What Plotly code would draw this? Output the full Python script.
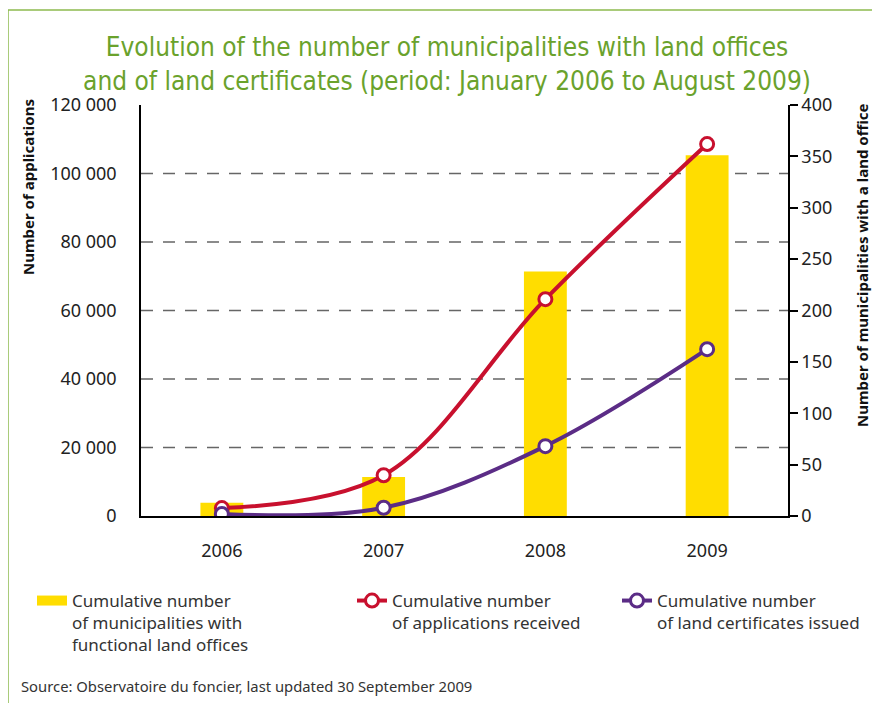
import plotly.graph_objects as go

years = ["2006", "2007", "2008", "2009"]
municipalities = [13, 38, 238, 351]
applications = [2300, 11900, 63300, 108600]
certificates = [600, 2400, 20400, 48700]

left_ticks = [0, 20000, 40000, 60000, 80000, 100000, 120000]
left_labels = ["0", "20 000", "40 000", "60 000", "80 000", "100 000", "120 000"]
right_ticks = [0, 50, 100, 150, 200, 250, 300, 350, 400]

# the page body has an 8px margin: the figure origin sits at page (8, 8)
OX, OY = 8, 8
W, H = 880 - OX, 703 - OY
ML, MR, MT, MB = 141 - OX, 880 - 788, 105 - OY, 703 - 516
PW, PH = W - ML - MR, H - MT - MB


def px(xp):
    return (xp - OX - ML) / PW


def py(yp):
    return (H - MB - (yp - OY)) / PH


YELLOW = "#FFDD00"
RED = "#C8102E"
PURPLE = "#5B2C86"
GREEN = "#6AA22C"
TXT = "#222222"
LEGFONT = dict(family="Noto Sans, Open Sans, sans-serif", size=17, color="#333333")

fig = go.Figure()

fig.add_trace(go.Bar(
    x=years, y=municipalities, marker=dict(color=YELLOW, line=dict(width=0)),
    width=0.265, showlegend=False, yaxis="y", name="municipalities"))

fig.add_trace(go.Scatter(
    x=[None], y=[None], mode="lines", line=dict(color=YELLOW, width=13),
    name="Cumulative number<br>of municipalities with<br>functional land offices",
    legend="legend"))

fig.add_trace(go.Scatter(
    x=years, y=applications, yaxis="y2", mode="lines+markers",
    line=dict(color=RED, width=4, shape="spline", smoothing=1.0),
    marker=dict(size=13, color="white", line=dict(color=RED, width=3)),
    name="Cumulative number<br>of applications received", legend="legend2"))

fig.add_trace(go.Scatter(
    x=years, y=certificates, yaxis="y2", mode="lines+markers",
    line=dict(color=PURPLE, width=4, shape="spline", smoothing=1.0),
    marker=dict(size=13, color="white", line=dict(color=PURPLE, width=3)),
    name="Cumulative number<br>of land certificates issued", legend="legend3"))

shapes = []
for v in left_ticks[1:-1]:
    shapes.append(dict(type="line", xref="paper", yref="y2", x0=0, x1=1, y0=v, y1=v,
                       line=dict(color="#666666", width=1.5, dash="12px,10px"), layer="below"))
# frame
shapes.append(dict(type="line", xref="paper", yref="paper", x0=px(6), x1=px(880), y0=py(10), y1=py(10),
                   line=dict(color="#8DBA4E", width=1.5)))
shapes.append(dict(type="line", xref="paper", yref="paper", x0=px(8), x1=px(8), y0=py(10), y1=py(703),
                   line=dict(color="#8DBA4E", width=1.5)))

annotations = [
    dict(text="<b>Number of applications</b>", textangle=-90, xref="paper", yref="paper",
         x=px(28), y=py(187), xanchor="center", yanchor="middle", showarrow=False,
         font=dict(family="Noto Sans, sans-serif", size=15, color="#111111")),
    dict(text="<b>Number of municipalities with a land office</b>", textangle=-90, xref="paper", yref="paper",
         x=px(862), y=py(266), xanchor="center", yanchor="middle", showarrow=False,
         font=dict(family="Noto Sans, sans-serif", size=15, color="#111111")),
    dict(text="Source: Observatoire du foncier, last updated 30 September 2009", xref="paper", yref="paper",
         x=px(19), y=py(686), xanchor="left", yanchor="middle", showarrow=False,
         font=dict(family="Noto Sans, sans-serif", size=14.8, color="#333333")),
]


def leg(xp):
    return dict(xref="container", yref="container", x=(xp - OX) / W, y=1 - (583 - OY) / H,
                xanchor="left", yanchor="top",
                orientation="v", valign="top", font=LEGFONT, bgcolor="rgba(0,0,0,0)",
                borderwidth=0, itemwidth=30)


fig.update_layout(
    width=W, height=H, autosize=False,
    margin=dict(l=ML, r=MR, t=MT, b=MB, pad=0, autoexpand=False),
    paper_bgcolor="white", plot_bgcolor="rgba(0,0,0,0)",
    title=dict(text="Evolution of the number of municipalities with land offices<br>"
                    "and of land certificates (period: January 2006 to August 2009)",
               x=(447 - OX) / W, xanchor="center", xref="container",
               y=1 - (56 - OY) / H, yanchor="middle", yref="container",
               font=dict(family="DejaVu Sans Condensed, Liberation Sans Narrow, Roboto Condensed, Roboto, sans-serif",
                         size=26, color=GREEN)),
    xaxis=dict(type="category", range=[-0.5, 3.5], showline=True, linecolor="black", linewidth=1.5,
               ticks="", showgrid=False, zeroline=False, ticklabelstandoff=18, automargin=False,
               tickfont=dict(family="Noto Sans, sans-serif", size=18, color=TXT)),
    yaxis=dict(side="right", range=[0, 400], tickmode="array", tickvals=right_ticks,
               showline=True, linecolor="black", linewidth=1.5, ticks="outside", ticklen=8,
               tickcolor="black", tickwidth=1.5, showgrid=False, zeroline=False, automargin=False,
               tickfont=dict(family="Noto Sans, sans-serif", size=18, color=TXT)),
    yaxis2=dict(overlaying="y", side="left", range=[0, 120000], tickmode="array",
                tickvals=left_ticks, ticktext=left_labels, showline=True, linecolor="black",
                linewidth=1.5, ticks="", showgrid=False, zeroline=False, ticklabelstandoff=19,
                automargin=False,
                tickfont=dict(family="Noto Sans, sans-serif", size=18, color=TXT)),
    legend=leg(32), legend2=leg(352), legend3=leg(617),
    shapes=shapes, annotations=annotations,
)

fig.write_html("out.html")
